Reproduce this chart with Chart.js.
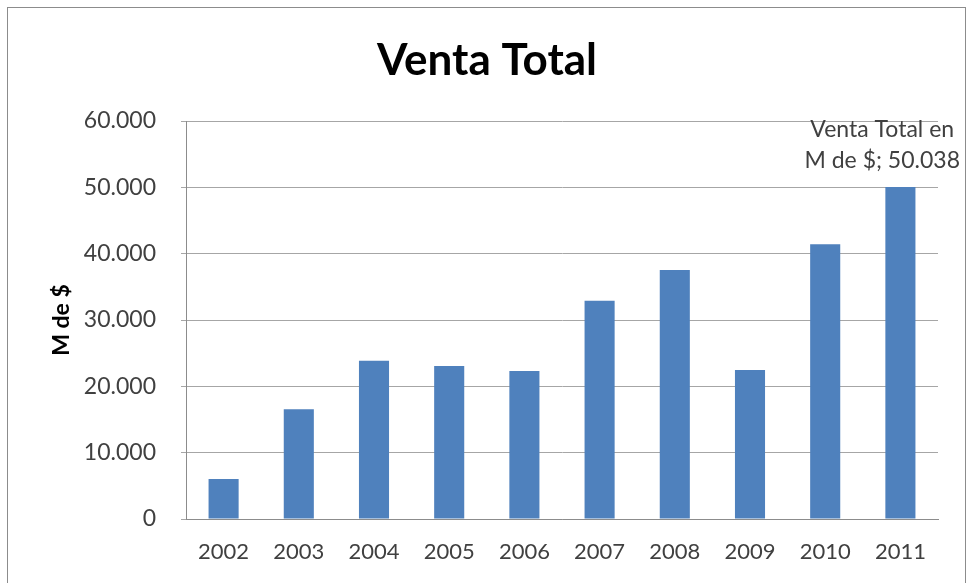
<!DOCTYPE html>
<html>
<head>
<meta charset="utf-8">
<script src="https://cdn.jsdelivr.net/npm/chart.js@4"></script>
<style>
    html, body { margin: 0; padding: 0; background: #fff; }
    #wrap { position: relative; width: 967px; height: 583px; }
    #frame { position: absolute; left: 7px; top: 7px; width: 957px; height: 620px; border: 1px solid #8c8c8c; pointer-events: none; }
</style>
</head>
<body>
<div id="wrap">
    <canvas id="chart" width="967" height="583"></canvas>
    <div id="frame"></div>
</div>
<script>
const years = ["2002", "2003", "2004", "2005", "2006", "2007", "2008", "2009", "2010", "2011"];
const ventaTotal = [6030, 16540, 23870, 23070, 22310, 32910, 37540, 22460, 41410, 50038];
const yTicks = [0, 10000, 20000, 30000, 40000, 50000, 60000];
const chartTitle = "Venta Total";
const yTitle = "M de $";
const seriesName = "Venta Total en M de $";
const labelIndex = 9;

const FONT = "Lato, 'Open Sans', sans-serif";

function formatMiles(v) {
    return v.toString().replace(/\B(?=(\d{3})+(?!\d))/g, ".");
}

// title and the one data label excel put on the last bar
const extrasPlugin = {
    id: "extras",
    afterDraw(chart) {
        const ctx = chart.ctx;
        ctx.save();
        ctx.fillStyle = "#000";
        ctx.font = "bold 44px " + FONT;
        ctx.textAlign = "center";
        ctx.textBaseline = "middle";
        ctx.fillText(chartTitle, (chart.width + 7) / 2, 61);

        const bar = chart.getDatasetMeta(0).data[labelIndex];
        const lines = ["Venta Total en", "M de $; " + formatMiles(ventaTotal[labelIndex])];
        ctx.font = "23px " + FONT;
        ctx.fillStyle = "#404040";
        const w = Math.max(...lines.map(l => ctx.measureText(l).width));
        let cx = bar.x;
        if (cx + w / 2 > chart.width - 7) cx = chart.width - 7 - w / 2;
        ctx.textAlign = "center";
        ctx.fillText(lines[0], cx, bar.y - 58);
        ctx.fillText(lines[1], cx, bar.y - 27);
        ctx.restore();
    }
};

new Chart(document.getElementById("chart"), {
    type: "bar",
    data: {
        labels: years,
        datasets: [{
            label: seriesName,
            data: ventaTotal,
            backgroundColor: "#4f81bd",
            borderWidth: 0,
            categoryPercentage: 1,
            barPercentage: 0.4
        }]
    },
    options: {
        responsive: false,
        animation: false,
        layout: {
            padding: { left: 0, right: 29, top: 121, bottom: 0 }
        },
        plugins: {
            legend: { display: false },
            title: { display: false },
            tooltip: { enabled: false }
        },
        scales: {
            x: {
                grid: { display: false, drawTicks: false },
                border: { display: true, color: "#8c8c8c", width: 1 },
                ticks: {
                    color: "#404040",
                    font: { family: FONT, size: 22 },
                    padding: 20,
                    maxRotation: 0,
                    autoSkip: false
                },
                afterFit(scale) { scale.height = 64; }
            },
            y: {
                min: 0,
                max: 60000,
                afterBuildTicks(scale) {
                    scale.ticks = yTicks.map(v => ({ value: v }));
                },
                grid: { color: "#a6a6a6", lineWidth: 1, tickLength: 5 },
                border: { display: true, color: "#8c8c8c", width: 1 },
                ticks: {
                    color: "#404040",
                    font: { family: FONT, size: 23 },
                    padding: 25,
                    callback: (v) => formatMiles(v)
                },
                title: {
                    display: true,
                    text: yTitle,
                    color: "#000",
                    font: { family: FONT, size: 23, weight: "bold" },
                    padding: { top: 48, bottom: 0 }
                },
                afterFit(scale) { scale.width = 186; }
            }
        }
    },
    plugins: [extrasPlugin]
});
</script>
</body>
</html>
